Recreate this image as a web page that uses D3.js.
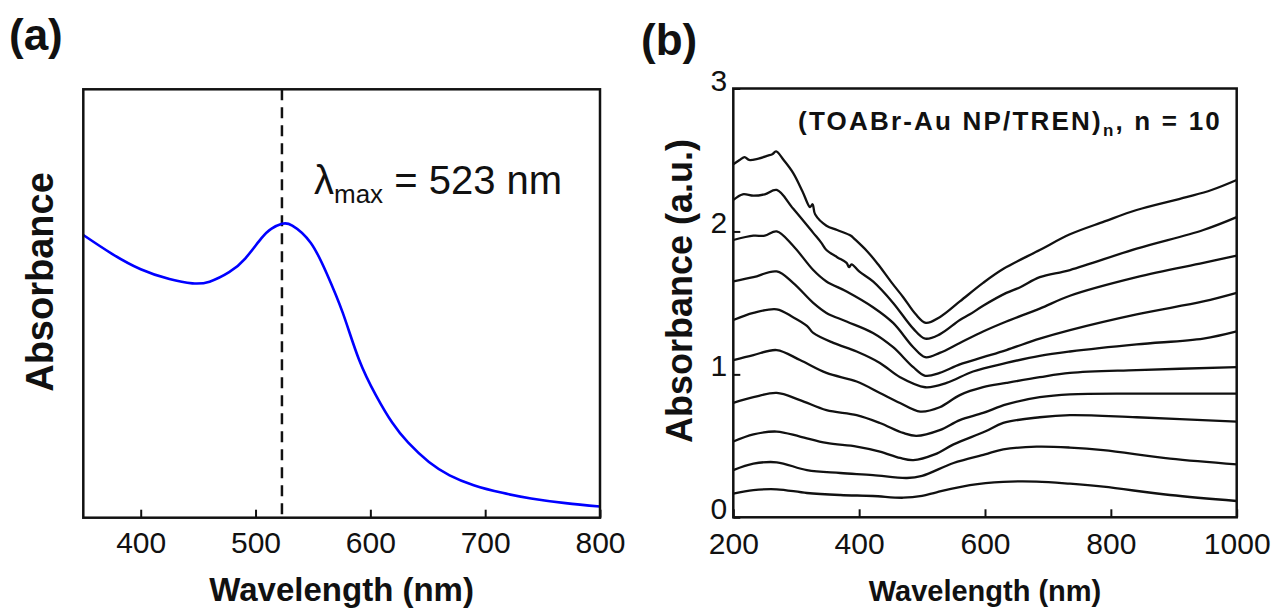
<!DOCTYPE html>
<html>
<head>
<meta charset="utf-8">
<script src="https://cdn.jsdelivr.net/npm/d3@7"></script>
<style>
  html, body { margin: 0; padding: 0; background: #fff; }
  svg { display: block; }
  text { font-family: Arial, "Liberation Sans", sans-serif; fill: #111; }
</style>
</head>
<body>
<svg id="fig" width="1275" height="615"></svg>
<script>
// ---------- (a) single Au NP spectrum ----------
const wavelengthA = [350, 375, 400, 425, 445, 460, 477, 491, 505, 514, 523, 532, 548, 562, 576, 590, 605, 619, 633, 651, 669, 690, 715, 740, 770, 800];
const absorbanceA = [0.660, 0.616, 0.580, 0.557, 0.547, 0.551, 0.573, 0.605, 0.652, 0.675, 0.686, 0.682, 0.642, 0.570, 0.478, 0.370, 0.285, 0.222, 0.175, 0.130, 0.099, 0.076, 0.058, 0.045, 0.034, 0.026];
const lambdaMax = 523;
const xTicksA = [400, 500, 600, 700, 800];

// ---------- (b) multilayer spectra, n = 1 ... 10 ----------
const layer1 = [[200,0.165],[232,0.19],[269,0.196],[317,0.17],[370,0.156],[422,0.149],[470,0.137],[500,0.15],[523,0.175],[576,0.225],[629,0.248],[682,0.25],[735,0.235],[788,0.214],[894,0.156],[1000,0.114]];
const layer2 = [[200,0.33],[232,0.375],[269,0.385],[317,0.33],[370,0.31],[422,0.295],[476,0.275],[500,0.29],[550,0.38],[600,0.44],[629,0.475],[682,0.494],[735,0.488],[788,0.47],[894,0.41],[1000,0.37]];
const layer3 = [[200,0.53],[232,0.58],[269,0.60],[306,0.565],[348,0.52],[396,0.495],[433,0.46],[465,0.415],[486,0.40],[520,0.44],[550,0.51],[600,0.60],[629,0.66],[687,0.70],[735,0.715],[841,0.70],[1000,0.67]];
const layer4 = [[200,0.80],[232,0.84],[269,0.87],[306,0.82],[348,0.75],[396,0.715],[433,0.66],[470,0.59],[491,0.57],[528,0.61],[560,0.68],[597,0.73],[634,0.79],[687,0.84],[735,0.86],[841,0.865],[1000,0.865]];
const layer5 = [[200,1.10],[232,1.135],[269,1.17],[306,1.10],[348,1.01],[396,0.95],[433,0.87],[465,0.80],[497,0.74],[528,0.77],[560,0.855],[597,0.91],[634,0.94],[687,0.98],[735,1.01],[841,1.03],[1000,1.05]];
const layer6 = [[200,1.38],[232,1.43],[269,1.455],[295,1.40],[317,1.34],[327,1.29],[359,1.22],[396,1.16],[433,1.08],[465,0.98],[505,0.91],[539,0.94],[581,1.02],[634,1.08],[687,1.13],[735,1.16],[841,1.21],[947,1.25],[1000,1.30]];
const layer7 = [[200,1.65],[232,1.68],[269,1.72],[295,1.64],[327,1.50],[348,1.43],[380,1.37],[422,1.29],[454,1.19],[486,1.05],[505,0.99],[528,1.01],[560,1.07],[597,1.12],[634,1.17],[687,1.25],[735,1.31],[841,1.42],[947,1.51],[1000,1.57]];
const layer8 = [[200,1.94],[232,1.97],[250,1.97],[269,2.00],[295,1.90],[327,1.73],[348,1.65],[380,1.58],[422,1.47],[454,1.36],[486,1.19],[505,1.12],[528,1.15],[560,1.22],[597,1.30],[634,1.37],[687,1.46],[735,1.55],[841,1.68],[947,1.78],[1000,1.83]];
const layer9 = [[200,2.22],[215,2.26],[232,2.25],[250,2.26],[269,2.29],[295,2.16],[327,1.99],[340,1.92],[348,1.87],[365,1.82],[380,1.78],[384,1.75],[388,1.77],[400,1.72],[422,1.65],[454,1.50],[486,1.32],[505,1.25],[528,1.28],[560,1.38],[576,1.42],[597,1.48],[634,1.57],[656,1.61],[687,1.68],[735,1.73],[841,1.88],[947,2.01],[1000,2.10]];
const layer10 = [[200,2.47],[210,2.50],[218,2.52],[225,2.50],[240,2.51],[255,2.53],[262,2.54],[268,2.56],[280,2.50],[295,2.41],[310,2.28],[322,2.17],[326,2.19],[330,2.12],[348,2.04],[365,2.01],[387,1.97],[392,1.95],[413,1.86],[430,1.77],[452,1.64],[470,1.54],[490,1.42],[506,1.36],[528,1.40],[560,1.51],[597,1.64],[630,1.74],[687,1.87],[735,1.98],[790,2.07],[841,2.15],[920,2.24],[960,2.29],[1000,2.36]];
const layersB = [layer1, layer2, layer3, layer4, layer5, layer6, layer7, layer8, layer9, layer10];
const xTicksB = [200, 400, 600, 800, 1000];
const yTicksB = [0, 1, 2, 3];

const svg = d3.select("#fig");
const FONT = "Arial, 'Liberation Sans', sans-serif";

// ---------- panel (a) ----------
const boxA = { left: 83.3, right: 600, top: 89.3, bottom: 517.7 };
const xA = d3.scaleLinear().domain([350, 800]).range([boxA.left, boxA.right]);
const yA = d3.scaleLinear().domain([0, 1]).range([boxA.bottom, boxA.top]);

const gA = svg.append("g");

gA.append("g")
  .attr("transform", `translate(0,${boxA.bottom})`)
  .call(d3.axisBottom(xA).tickValues(xTicksA).tickSize(-8).tickPadding(14).tickFormat(d3.format("d")))
  .call(g => g.select(".domain").remove())
  .call(g => g.selectAll("line").attr("stroke", "#111").attr("stroke-width", 2))
  .call(g => g.selectAll("text").attr("font-size", 30).attr("fill", "#111").attr("font-family", FONT));

// λmax marker
gA.append("line")
  .attr("x1", xA(lambdaMax)).attr("x2", xA(lambdaMax))
  .attr("y1", boxA.top).attr("y2", boxA.bottom)
  .attr("stroke", "#111").attr("stroke-width", 2.5)
  .attr("stroke-dasharray", "11,7");

const lineA = d3.line()
  .x((d, i) => xA(wavelengthA[i]))
  .y(d => yA(d))
  .curve(d3.curveNatural);

gA.append("path")
  .datum(absorbanceA)
  .attr("d", lineA)
  .attr("fill", "none")
  .attr("stroke", "#0000ff")
  .attr("stroke-width", 2.6);

gA.append("rect")
  .attr("x", boxA.left).attr("y", boxA.top)
  .attr("width", boxA.right - boxA.left).attr("height", boxA.bottom - boxA.top)
  .attr("fill", "none").attr("stroke", "#111").attr("stroke-width", 2.5);

const lam = gA.append("text").attr("x", 314).attr("y", 194).attr("font-size", 40);
lam.append("tspan").text("λ");
lam.append("tspan").attr("font-size", 26).attr("dy", 9).text("max");
lam.append("tspan").attr("dy", -9).text(" = " + lambdaMax + " nm");

gA.append("text")
  .attr("transform", "translate(53,282) rotate(-90)")
  .attr("text-anchor", "middle")
  .attr("font-size", 38).attr("font-weight", "bold")
  .text("Absorbance");

gA.append("text")
  .attr("x", (boxA.left + boxA.right) / 2).attr("y", 601)
  .attr("text-anchor", "middle")
  .attr("font-size", 33).attr("font-weight", "bold")
  .text("Wavelength (nm)");

svg.append("text")
  .attr("x", 9).attr("y", 50)
  .attr("font-size", 44).attr("font-weight", "bold")
  .text("(a)");

// ---------- panel (b) ----------
const boxB = { left: 733.3, right: 1236.7, top: 88.5, bottom: 517.3 };
const xB = d3.scaleLinear().domain([200, 1000]).range([boxB.left, boxB.right]);
const yB = d3.scaleLinear().domain([0, 3]).range([boxB.bottom, boxB.top]);

const gB = svg.append("g");

gB.append("g")
  .attr("transform", `translate(0,${boxB.bottom})`)
  .call(d3.axisBottom(xB).tickValues(xTicksB).tickSize(-8).tickPadding(15).tickFormat(d3.format("d")))
  .call(g => g.select(".domain").remove())
  .call(g => g.selectAll("line").attr("stroke", "#111").attr("stroke-width", 2))
  .call(g => g.selectAll("text").attr("font-size", 30).attr("fill", "#111").attr("font-family", FONT));

gB.append("g")
  .attr("transform", `translate(${boxB.left},0)`)
  .call(d3.axisLeft(yB).tickValues(yTicksB).tickSize(-7).tickPadding(6).tickFormat(d3.format("d")))
  .call(g => g.select(".domain").remove())
  .call(g => g.selectAll("line").attr("stroke", "#111").attr("stroke-width", 2))
  .call(g => g.selectAll("text").attr("font-size", 30).attr("fill", "#111").attr("dy", "0.05em")
    .attr("font-family", FONT));

const lineB = d3.line()
  .x(d => xB(d[0]))
  .y(d => yB(d[1]))
  .curve(d3.curveCatmullRom.alpha(0.5));

gB.selectAll("path.spectrum")
  .data(layersB)
  .join("path")
  .attr("class", "spectrum")
  .attr("d", lineB)
  .attr("fill", "none")
  .attr("stroke", "#111")
  .attr("stroke-width", 2.3);

gB.append("rect")
  .attr("x", boxB.left).attr("y", boxB.top)
  .attr("width", boxB.right - boxB.left).attr("height", boxB.bottom - boxB.top)
  .attr("fill", "none").attr("stroke", "#111").attr("stroke-width", 2.5);

const ttl = gB.append("text")
  .attr("x", 1222).attr("y", 130)
  .attr("text-anchor", "end")
  .attr("font-size", 26).attr("font-weight", "bold")
  .attr("letter-spacing", 2.2);
ttl.append("tspan").text("(TOABr-Au NP/TREN)");
ttl.append("tspan").attr("font-size", 17).attr("dy", 6).text("n");
ttl.append("tspan").attr("dy", -6).text(", n = " + layersB.length);

gB.append("text")
  .attr("transform", "translate(692,291) rotate(-90)")
  .attr("text-anchor", "middle")
  .attr("font-size", 36).attr("font-weight", "bold")
  .text("Absorbance (a.u.)");

gB.append("text")
  .attr("x", (boxB.left + boxB.right) / 2).attr("y", 601)
  .attr("text-anchor", "middle")
  .attr("font-size", 29).attr("font-weight", "bold")
  .text("Wavelength (nm)");

svg.append("text")
  .attr("x", 641).attr("y", 55)
  .attr("font-size", 44).attr("font-weight", "bold")
  .text("(b)");
</script>
</body>
</html>
